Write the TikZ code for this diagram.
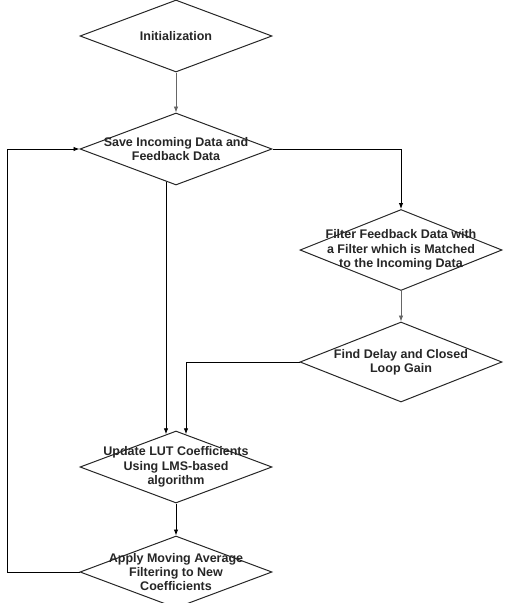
\documentclass[tikz,border=0pt]{standalone}
\usepackage{fontspec}
\setmainfont{Liberation Sans}
\usetikzlibrary{shapes.geometric, arrows.meta}

\begin{document}
\begin{tikzpicture}[x=1pt, y=-1pt, >={Latex[length=6pt,width=4.5pt]},
        flow/.style={draw=black!85, diamond, line width=1pt, inner sep=0pt, minimum width=192pt, minimum height=72pt},
        every label/.style={align=center, text=black!85, font=\bfseries\fontsize{12.5}{14.3}\selectfont}]
        \useasboundingbox (0,0) rectangle (510,603);

        \node[flow, label={center:Initialization}] (init) at (176,36) {};
        \node[flow, label={center:Save Incoming Data and\\Feedback Data}] (save) at (176,149) {};
        \node[flow, minimum width=202pt, minimum height=81pt, label={center:Filter Feedback Data with\\a Filter which is Matched\\to the Incoming Data}] (filt) at (401,250) {};
        \node[flow, minimum width=202pt, minimum height=80pt, label={center:Find Delay and Closed\\Loop Gain}] (find) at (401,362) {};
        \node[flow, label={center:Update LUT Coefficients\\Using LMS-based\\algorithm}] (upd) at (176,467) {};
        \node[flow, label={center:Apply Moving Average\\Filtering to New\\Coefficients}] (apply) at (176,572) {};
        \coordinate (back) at (7.5,0);

        \draw[->, black!60, line width=0.7pt] (init) -- (save);
        \draw[->, line width=0.9pt] (save.east) -| (filt.north);
        \draw[->, black!60, line width=0.7pt] (filt) -- (find);
        \draw[->, line width=0.9pt] (save.253) -- (upd.107);
        \draw[->, line width=0.9pt] (find.west) -| (upd.73);
        \draw[->, line width=0.9pt] (upd) -- (apply);
        \draw[->, line width=0.9pt] (apply.west) -- (apply.west -| back) |- (save.west);
    \end{tikzpicture}
\end{document}
